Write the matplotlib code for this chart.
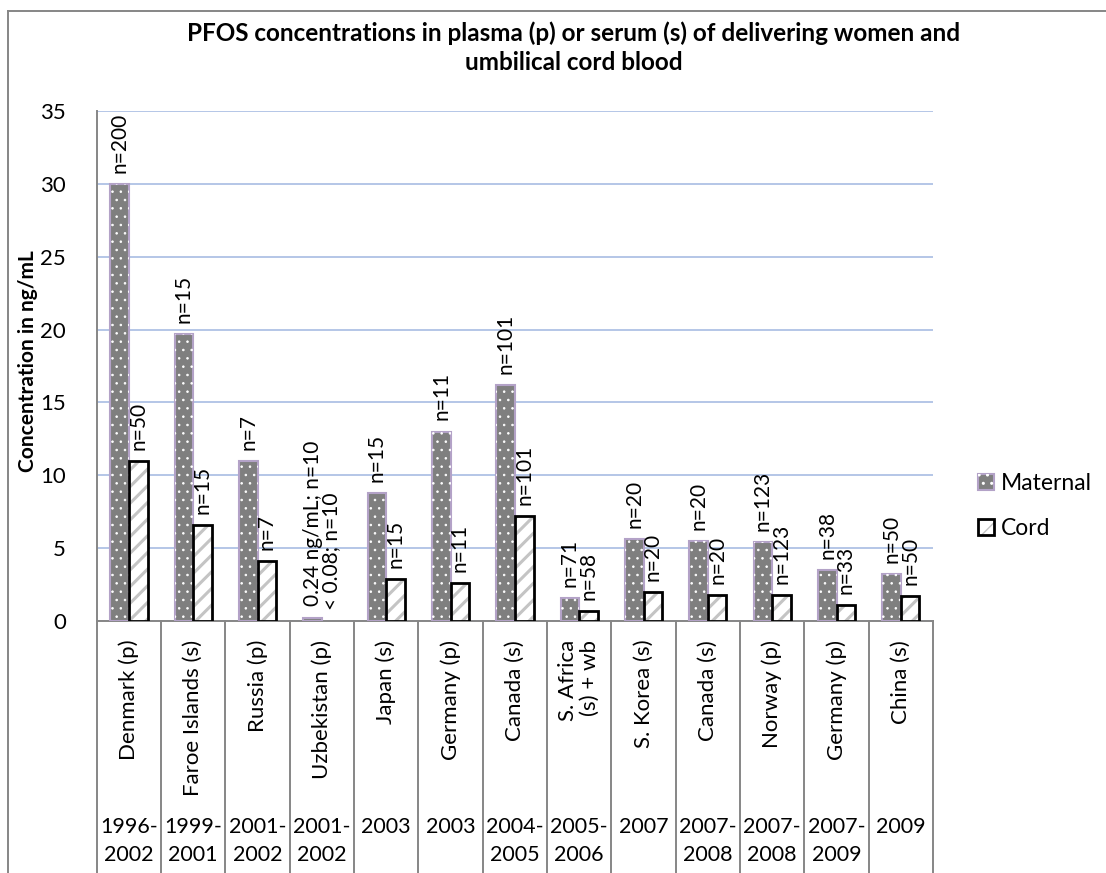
import numpy as np
import matplotlib
matplotlib.use('Agg')
import matplotlib.pyplot as plt
from matplotlib.legend_handler import HandlerTuple
from matplotlib.transforms import blended_transform_factory
from matplotlib.lines import Line2D

plt.rcParams['font.family'] = ['Lato', 'DejaVu Sans']

# study sites and sampling years
countries = ['Denmark (p)', 'Faroe Islands (s)', 'Russia (p)', 'Uzbekistan (p)',
             'Japan (s)', 'Germany (p)', 'Canada (s)', 'S. Africa\n(s) + wb',
             'S. Korea (s)', 'Canada (s)', 'Norway (p)', 'Germany (p)', 'China (s)']
years = ['1996-\n2002', '1999-\n2001', '2001-\n2002', '2001-\n2002', '2003', '2003',
         '2004-\n2005', '2005-\n2006', '2007', '2007-\n2008', '2007-\n2008',
         '2007-\n2009', '2009']

# PFOS in ng/mL
maternal = [30, 19.7, 11, 0.24, 8.8, 13, 16.2, 1.6, 5.6, 5.5, 5.4, 3.5, 3.2]
cord = [11, 6.6, 4.1, 0, 2.9, 2.6, 7.2, 0.7, 2.0, 1.8, 1.8, 1.1, 1.7]

maternal_n = ['n=200', 'n=15', 'n=7', '0.24 ng/mL; n=10', 'n=15', 'n=11', 'n=101',
              'n=71', 'n=20', 'n=20', 'n=123', 'n=38', 'n=50']
cord_n = ['n=50', 'n=15', 'n=7', '< 0.08; n=10', 'n=15', 'n=11', 'n=101',
          'n=58', 'n=20', 'n=20', 'n=123', 'n=33', 'n=50']

W, H = 1106, 873
fig = plt.figure(figsize=(W / 100, H / 100), dpi=100)
ax = fig.add_axes([96.7 / W, 1 - 621 / H, (933 - 96.7) / W, (621 - 111) / H])

x = np.arange(len(countries))
bw = 0.29
gray = '#7f7f7f'
lav = '#b3a2c7'
axcol = '#868686'
fs = 16

# maternal: grey with white dots
m_base = ax.bar(x - bw / 2, maternal, bw, color=gray, edgecolor=lav, linewidth=1.5, zorder=3)
with plt.rc_context({'hatch.linewidth': 0.6}):
    m_dots = ax.bar(x - bw / 2, maternal, bw, facecolor='none', edgecolor='white',
                    linewidth=0, hatch='..', zorder=4)
# cord: light diagonal stripes, black outline
with plt.rc_context({'hatch.linewidth': 2.2}):
    c_base = ax.bar(x + bw / 2, cord, bw, facecolor='white', edgecolor='#c4c4c4',
                    linewidth=0, hatch='//', zorder=3)
c_edge = ax.bar(x + bw / 2, cord, bw, facecolor='none', edgecolor='black',
                linewidth=2, zorder=4)
# nothing to outline for the cord value below detection
c_edge[3].set_visible(False)
c_base[3].set_visible(False)

for i in range(len(x)):
    ax.annotate(maternal_n[i], (x[i] - bw / 2, maternal[i]), xytext=(0, 8),
                textcoords='offset points', rotation=90, ha='center', va='bottom',
                fontsize=15)
    ax.annotate(cord_n[i], (x[i] + bw / 2, cord[i]), xytext=(0, 8),
                textcoords='offset points', rotation=90, ha='center', va='bottom',
                fontsize=15)

ax.set_xlim(-0.5, len(x) - 0.5)
ax.set_ylim(0, 35)
ax.set_yticks(np.arange(0, 36, 5))
ax.set_xticks([])
ax.tick_params(axis='y', length=0, pad=22, labelsize=fs)
ax.yaxis.grid(True, color='#b4c6e7', linewidth=1.4, zorder=0)
ax.set_axisbelow(True)
for s in ['top', 'right']:
    ax.spines[s].set_visible(False)
for s in ['left', 'bottom']:
    ax.spines[s].set_color(axcol)
    ax.spines[s].set_linewidth(1.4)

fig.text(28 / W, 1 - 361 / H, 'Concentration in ng/mL', rotation=90, ha='center',
         va='center', fontsize=15, fontweight='bold')

# category table under the axis
tr = blended_transform_factory(ax.transData, ax.transAxes)
for b in np.arange(-0.5, len(x), 1):
    ax.plot([b, b], [0, -0.52], transform=tr, clip_on=False, color=axcol, lw=1.4)
for i in range(len(x)):
    ax.text(x[i], -0.037, countries[i], transform=tr, rotation=90, ha='center',
            va='top', fontsize=fs, multialignment='right', linespacing=1.1)
    ax.text(x[i], -0.385, years[i], transform=tr, ha='center', va='top',
            fontsize=15.5, linespacing=1.45)

fig.text(574 / W, 1 - 48 / H,
         'PFOS concentrations in plasma (p) or serum (s) of delivering women and\n'
         'umbilical cord blood', ha='center', va='center', fontsize=17.5,
         fontweight='bold', linespacing=1.32)

# chart border
fig.add_artist(Line2D([8 / W, 8 / W], [0, 1 - 11 / H], transform=fig.transFigure,
                      color=axcol, lw=1.4))
fig.add_artist(Line2D([8 / W, 1], [1 - 11 / H, 1 - 11 / H], transform=fig.transFigure,
                      color=axcol, lw=1.4))

ax.legend([(m_base[0], m_dots[0]), (c_base[0], c_edge[0])], ['Maternal', 'Cord'],
          handler_map={tuple: HandlerTuple(ndivide=1, pad=0)},
          loc='center left', bbox_to_anchor=(978 / W, 1 - 506 / H),
          bbox_transform=fig.transFigure, frameon=False, fontsize=16.5,
          handlelength=0.7, handleheight=0.7, handletextpad=0.3,
          labelspacing=1.05, borderaxespad=0, borderpad=0)

fig.savefig('out.png', dpi=100)
